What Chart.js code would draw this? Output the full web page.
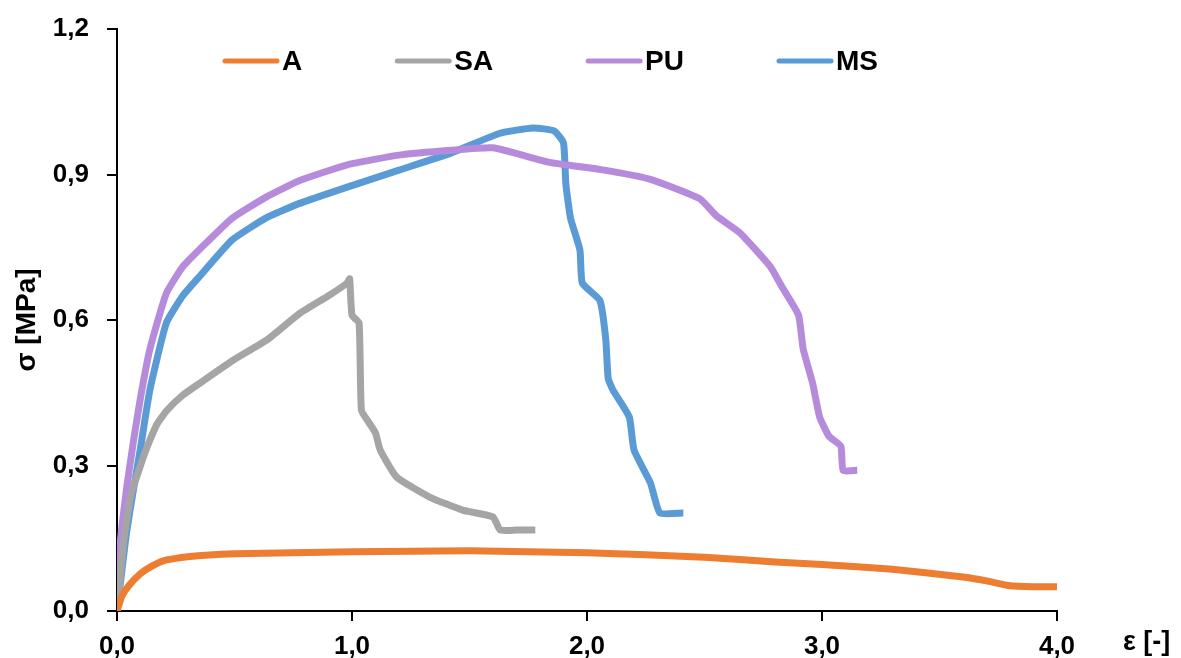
<!DOCTYPE html>
<html>
<head>
<meta charset="utf-8">
<script src="https://cdn.jsdelivr.net/npm/chart.js@4.4.1/dist/chart.umd.min.js"></script>
<style>
  html, body { margin: 0; padding: 0; background: #fff; }
  #wrap { width: 1181px; height: 658px; }
</style>
</head>
<body>
<div id="wrap"><canvas id="stressChart"></canvas></div>
<script>
// strain [-] and stress [MPa]
const aStrain = [0, 0.02, 0.05, 0.1, 0.15, 0.2, 0.3, 0.5, 0.75, 1.0, 1.5, 2.0, 2.5, 2.8, 3.0, 3.3, 3.6, 3.7, 3.8, 3.9, 4.0];
const aStress = [0, 0.03, 0.052, 0.077, 0.093, 0.104, 0.112, 0.118, 0.12, 0.122, 0.124, 0.12, 0.111, 0.101, 0.096, 0.086, 0.07, 0.062, 0.052, 0.05, 0.05];

const saStrain = [0, 0.03, 0.06, 0.098, 0.128, 0.17, 0.213, 0.28, 0.353, 0.494, 0.638, 0.779, 0.9, 0.979, 0.99, 1.0, 1.03, 1.04, 1.07, 1.1, 1.12, 1.19, 1.33, 1.47, 1.6, 1.63, 1.7, 1.78];
const saStress = [0, 0.15, 0.24, 0.297, 0.338, 0.385, 0.414, 0.445, 0.47, 0.517, 0.559, 0.614, 0.65, 0.676, 0.685, 0.61, 0.594, 0.414, 0.39, 0.367, 0.332, 0.276, 0.235, 0.208, 0.194, 0.167, 0.167, 0.167];

const puStrain = [0, 0.02, 0.04, 0.07, 0.1, 0.14, 0.21, 0.28, 0.35, 0.49, 0.64, 0.78, 0.98, 1.2, 1.42, 1.6, 1.84, 2.06, 2.27, 2.48, 2.55, 2.65, 2.78, 2.83, 2.9, 2.92, 2.96, 2.99, 3.03, 3.08, 3.09, 3.15];
const puStress = [0.08, 0.17, 0.25, 0.35, 0.44, 0.54, 0.655, 0.71, 0.745, 0.81, 0.855, 0.888, 0.92, 0.94, 0.95, 0.955, 0.925, 0.91, 0.89, 0.85, 0.815, 0.78, 0.71, 0.668, 0.61, 0.54, 0.47, 0.4, 0.36, 0.34, 0.29, 0.29];

const msStrain = [0, 0.02, 0.04, 0.07, 0.098, 0.14, 0.21, 0.28, 0.35, 0.49, 0.64, 0.78, 0.98, 1.2, 1.42, 1.63, 1.77, 1.86, 1.9, 1.91, 1.93, 1.97, 1.98, 2.055, 2.08, 2.09, 2.11, 2.18, 2.2, 2.27, 2.31, 2.41];
const msStress = [0, 0.08, 0.16, 0.25, 0.33, 0.456, 0.594, 0.65, 0.689, 0.765, 0.812, 0.841, 0.874, 0.909, 0.944, 0.985, 0.996, 0.99, 0.965, 0.88, 0.81, 0.744, 0.676, 0.64, 0.56, 0.48, 0.456, 0.4, 0.332, 0.264, 0.202, 0.202];

const seriesNames = ['A', 'SA', 'PU', 'MS'];
const seriesColors = ['#ED7D31', '#A5A5A5', '#B78BDB', '#5B9BD5'];

const yTicks = [0, 0.3, 0.6, 0.9, 1.2];
const xTicks = [0, 1, 2, 3, 4];

function toPoints(xs, ys) {
    return xs.map((x, i) => ({ x: x, y: ys[i] }));
}

function fmt(v) {
    return v.toFixed(1).replace('.', ',');
}

const FONT = '"Liberation Sans", Arial, sans-serif';

// legend drawn inside the plot, like the original Excel chart
const topLegend = {
    id: 'topLegend',
    afterDraw(chart) {
        const ctx = chart.ctx;
        const area = chart.chartArea;
        let cx = area.left + 106;
        const cy = area.top + 32;
        ctx.save();
        ctx.font = 'bold 28px ' + FONT;
        ctx.textBaseline = 'middle';
        chart.data.datasets.forEach(ds => {
            ctx.strokeStyle = ds.borderColor;
            ctx.lineWidth = 5;
            ctx.lineCap = 'round';
            ctx.beginPath();
            ctx.moveTo(cx + 2, cy);
            ctx.lineTo(cx + 54, cy);
            ctx.stroke();
            ctx.fillStyle = '#000';
            ctx.fillText(ds.label, cx + 59, cy + 1);
            cx += 59 + ctx.measureText(ds.label).width + 93;
        });
        ctx.restore();
    }
};

// x axis title sits right of the axis end
const xTitle = {
    id: 'xTitle',
    afterDraw(chart) {
        const ctx = chart.ctx;
        const area = chart.chartArea;
        ctx.save();
        ctx.font = 'bold 27px ' + FONT;
        ctx.fillStyle = '#000';
        ctx.textAlign = 'left';
        ctx.textBaseline = 'middle';
        ctx.fillText('ε [-]', area.right + 66, area.bottom + 32);
        ctx.restore();
    }
};

const ctx = document.getElementById('stressChart').getContext('2d');
const chart = new Chart(ctx, {
    type: 'line',
    data: {
        datasets: [
            { label: seriesNames[0], data: toPoints(aStrain, aStress) },
            { label: seriesNames[1], data: toPoints(saStrain, saStress) },
            { label: seriesNames[2], data: toPoints(puStrain, puStress) },
            { label: seriesNames[3], data: toPoints(msStrain, msStress) }
        ].map((ds, i) => Object.assign(ds, {
            borderColor: seriesColors[i],
            backgroundColor: seriesColors[i],
            borderWidth: 7,
            pointRadius: 0,
            tension: 0.15,
            fill: false
        }))
    },
    options: {
        responsive: true,
        maintainAspectRatio: false,
        animation: false,
        layout: {
            padding: { top: 29, right: 124, left: 0, bottom: 0 }
        },
        plugins: {
            legend: { display: false },
            tooltip: { enabled: false }
        },
        scales: {
            x: {
                type: 'linear',
                min: 0,
                max: 4,
                afterBuildTicks: axis => { axis.ticks = xTicks.map(v => ({ value: v })); },
                afterFit: axis => {
                    axis.height = 47;
                    axis.paddingLeft = 0;
                    axis.paddingRight = 0;
                },
                ticks: {
                    callback: fmt,
                    color: '#000',
                    font: { family: FONT, size: 26, weight: 'bold' },
                    padding: 10,
                    maxRotation: 0
                },
                grid: {
                    drawOnChartArea: false,
                    drawTicks: true,
                    tickLength: 10,
                    color: '#000',
                    lineWidth: 2
                },
                border: { color: '#000', width: 2 }
            },
            y: {
                type: 'linear',
                min: 0,
                max: 1.2,
                afterBuildTicks: axis => { axis.ticks = yTicks.map(v => ({ value: v })); },
                afterFit: axis => {
                    axis.width = 117;
                    axis.paddingTop = 0;
                    axis.paddingBottom = 0;
                },
                ticks: {
                    callback: fmt,
                    color: '#000',
                    font: { family: FONT, size: 26, weight: 'bold' },
                    padding: 18
                },
                grid: {
                    drawOnChartArea: false,
                    drawTicks: true,
                    tickLength: 10,
                    color: '#000',
                    lineWidth: 2
                },
                border: { color: '#000', width: 2 },
                title: {
                    display: true,
                    text: 'σ [MPa]',
                    color: '#000',
                    font: { family: FONT, size: 28, weight: 'bold' },
                    padding: { top: 10, bottom: 0 }
                }
            }
        }
    },
    plugins: [topLegend, xTitle]
});
</script>
</body>
</html>
